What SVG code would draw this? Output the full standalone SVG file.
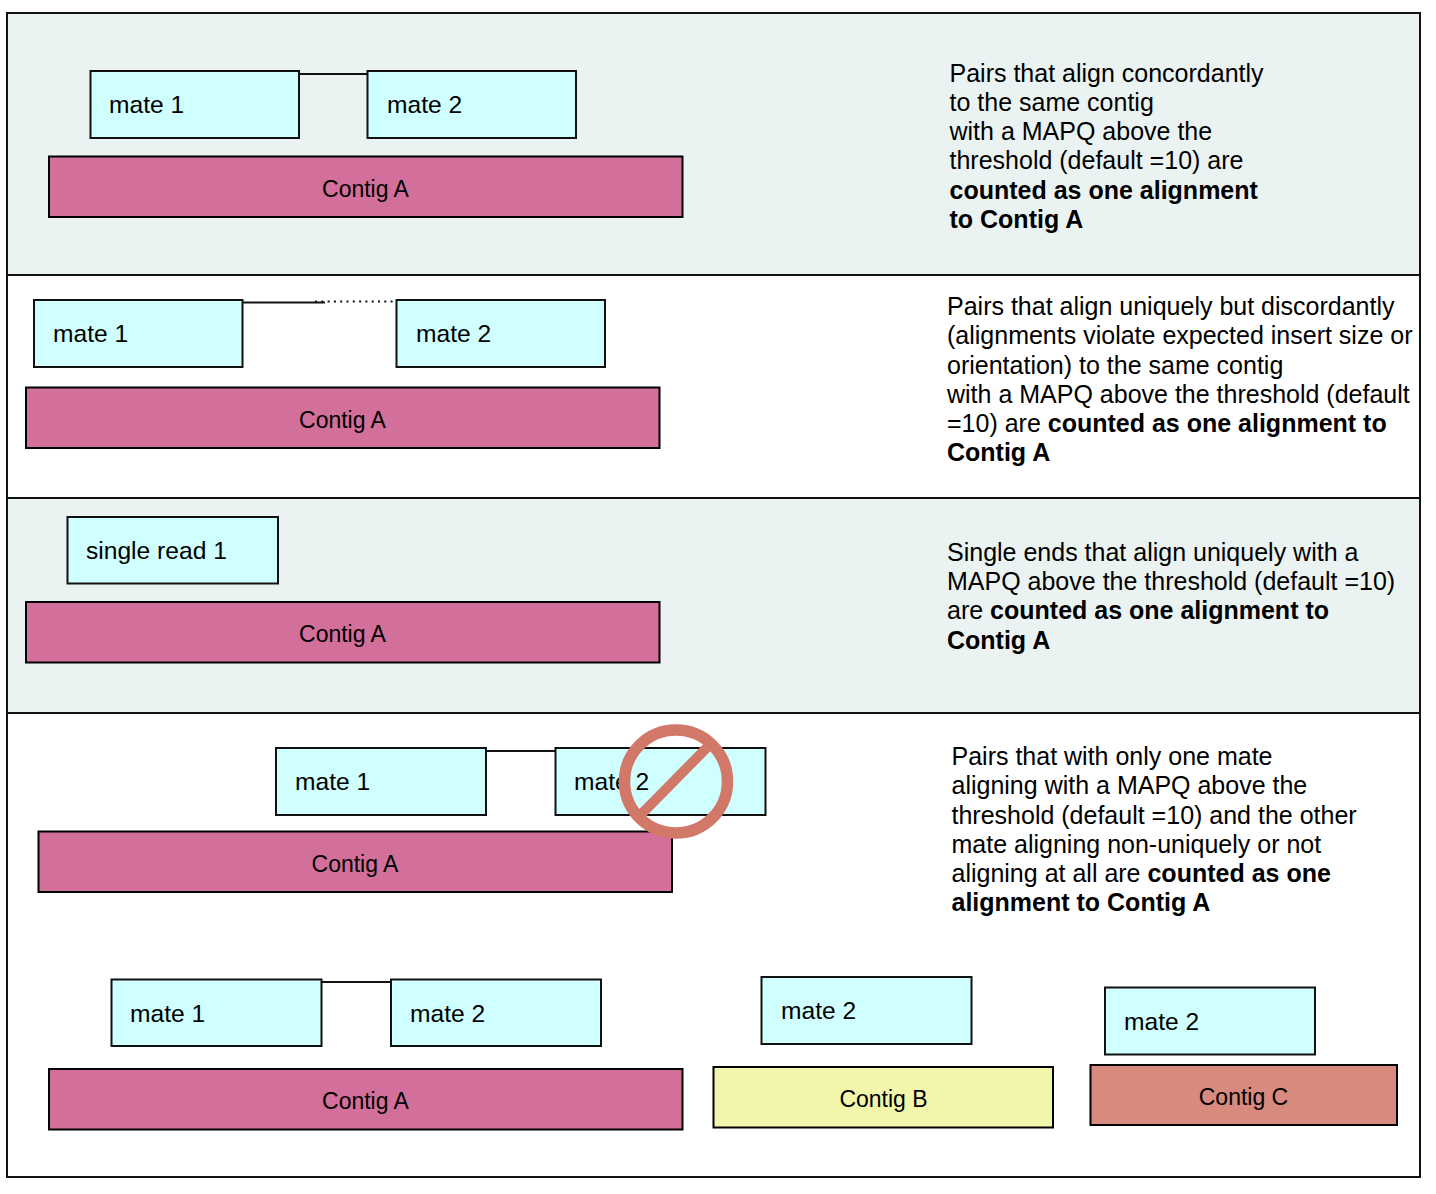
<svg xmlns="http://www.w3.org/2000/svg" width="1436" height="1194" viewBox="0 0 1436 1194">
<style>
text{font-family:"Liberation Sans",Arial,sans-serif;fill:#000}
.m rect{fill:#cfffff;stroke:#111;stroke-width:2}
.m text{font-size:24.6px}
.c rect{stroke:#000;stroke-width:2}
.c text{font-size:23px;text-anchor:middle}
.a rect{fill:#d36f9b}
.d{font-size:25px}
.d tspan.b{font-weight:bold}
.p{fill:#ebf3f2;stroke:none}
.l{stroke:#111;stroke-width:2;fill:none}
</style>
<rect width="1436" height="1194" fill="#fff"/>
<g id="panels">
<rect class="p" x="7" y="13" width="1413" height="262"/>
<rect class="p" x="7" y="498" width="1413" height="215"/>
<rect x="7" y="13" width="1413" height="1164" fill="none" stroke="#111" stroke-width="2"/>
<path class="l" d="M7 275H1420M7 498H1420M7 713H1420"/>
</g>
<g id="connectors">
<path class="l" d="M299 74H368M243 302.500H325M486 751H556M322 982H391"/>
<path d="M315 301.500H395" stroke="#111" stroke-width="2" stroke-dasharray="2 4.300" fill="none"/>
</g>
<g id="r1-mate1" class="m"><rect x="90.500" y="71" width="208.500" height="67"/><text x="109" y="113">mate 1</text></g>
<g id="r1-mate2" class="m"><rect x="367.500" y="71" width="208.500" height="67"/><text x="387" y="113">mate 2</text></g>
<g id="r1-contig" class="c a"><rect x="49" y="156.500" width="633.500" height="60.500"/><text x="365.500" y="196.500">Contig A</text></g>
<g id="r2-mate1" class="m"><rect x="34" y="300" width="208.500" height="67"/><text x="53" y="341.500">mate 1</text></g>
<g id="r2-mate2" class="m"><rect x="396.500" y="300" width="208.500" height="67"/><text x="416" y="341.500">mate 2</text></g>
<g id="r2-contig" class="c a"><rect x="26" y="387.500" width="633.500" height="60.500"/><text x="342.500" y="427.500">Contig A</text></g>
<g id="r3-single" class="m"><rect x="67.500" y="517" width="210.500" height="66.500"/><text x="86" y="558.500">single read 1</text></g>
<g id="r3-contig" class="c a"><rect x="26" y="602" width="633.500" height="60.500"/><text x="342.500" y="641.500">Contig A</text></g>
<g id="r4-mate1" class="m"><rect x="276" y="748" width="210" height="67"/><text x="295" y="789.500">mate 1</text></g>
<g id="r4-mate2" class="m"><rect x="555.500" y="748" width="210" height="67"/><text x="574" y="789.500">mate 2</text></g>
<g id="r4-contig" class="c a"><rect x="38.500" y="831.500" width="633.500" height="60.500"/><text x="355" y="871.500">Contig A</text></g>
<g id="no-sign" fill="none" stroke="#d27868">
<circle cx="676" cy="781.500" r="51.500" stroke-width="11.500"/>
<path d="M641.500 814L708 746.500" stroke-width="10"/>
</g>
<g id="r5-mate1" class="m"><rect x="111.500" y="979.500" width="210" height="66.500"/><text x="130" y="1021.500">mate 1</text></g>
<g id="r5-mate2" class="m"><rect x="391" y="979.500" width="210" height="66.500"/><text x="410" y="1021.500">mate 2</text></g>
<g id="r5-contig-a" class="c a"><rect x="49" y="1069" width="633.500" height="60.500"/><text x="365.500" y="1108.500">Contig A</text></g>
<g id="r6-mate2" class="m"><rect x="761.500" y="977" width="210" height="67"/><text x="781" y="1018.500">mate 2</text></g>
<g id="r6-contig-b" class="c"><rect x="713.500" y="1067" width="339.500" height="60.500" fill="#f1f6aa"/><text x="883.500" y="1106.500">Contig B</text></g>
<g id="r7-mate2" class="m"><rect x="1105" y="987.500" width="210" height="67"/><text x="1124" y="1029.500">mate 2</text></g>
<g id="r7-contig-c" class="c"><rect x="1090.500" y="1065" width="306.500" height="60" fill="#d88a7e"/><text x="1243.500" y="1104.500">Contig C</text></g>
<g id="desc1"><text class="d"><tspan x="949.500" y="82">Pairs that align concordantly</tspan><tspan x="949.500" y="111">to the same contig</tspan><tspan x="949.500" y="140">with a MAPQ above the</tspan><tspan x="949.500" y="169">threshold (default =10) are</tspan><tspan x="949.500" y="199" class="b">counted as one alignment</tspan><tspan x="949.500" y="228" class="b">to Contig A</tspan></text></g>
<g id="desc2"><text class="d"><tspan x="947" y="315">Pairs that align uniquely but discordantly</tspan><tspan x="947" y="344">(alignments violate expected insert size or</tspan><tspan x="947" y="374">orientation) to the same contig</tspan><tspan x="947" y="403">with a MAPQ above the threshold (default</tspan><tspan x="947" y="432">=10) are </tspan><tspan class="b">counted as one alignment to</tspan><tspan x="947" y="461" class="b">Contig A</tspan></text></g>
<g id="desc3"><text class="d"><tspan x="947" y="561">Single ends that align uniquely with a</tspan><tspan x="947" y="590">MAPQ above the threshold (default =10)</tspan><tspan x="947" y="619">are </tspan><tspan class="b">counted as one alignment to</tspan><tspan x="947" y="649" class="b">Contig A</tspan></text></g>
<g id="desc4"><text class="d"><tspan x="951.500" y="765">Pairs that with only one mate</tspan><tspan x="951.500" y="794">aligning with a MAPQ above the</tspan><tspan x="951.500" y="824">threshold (default =10) and the other</tspan><tspan x="951.500" y="853">mate aligning non-uniquely or not</tspan><tspan x="951.500" y="882">aligning at all are </tspan><tspan class="b">counted as one</tspan><tspan x="951.500" y="911" class="b">alignment to Contig A</tspan></text></g>
</svg>
